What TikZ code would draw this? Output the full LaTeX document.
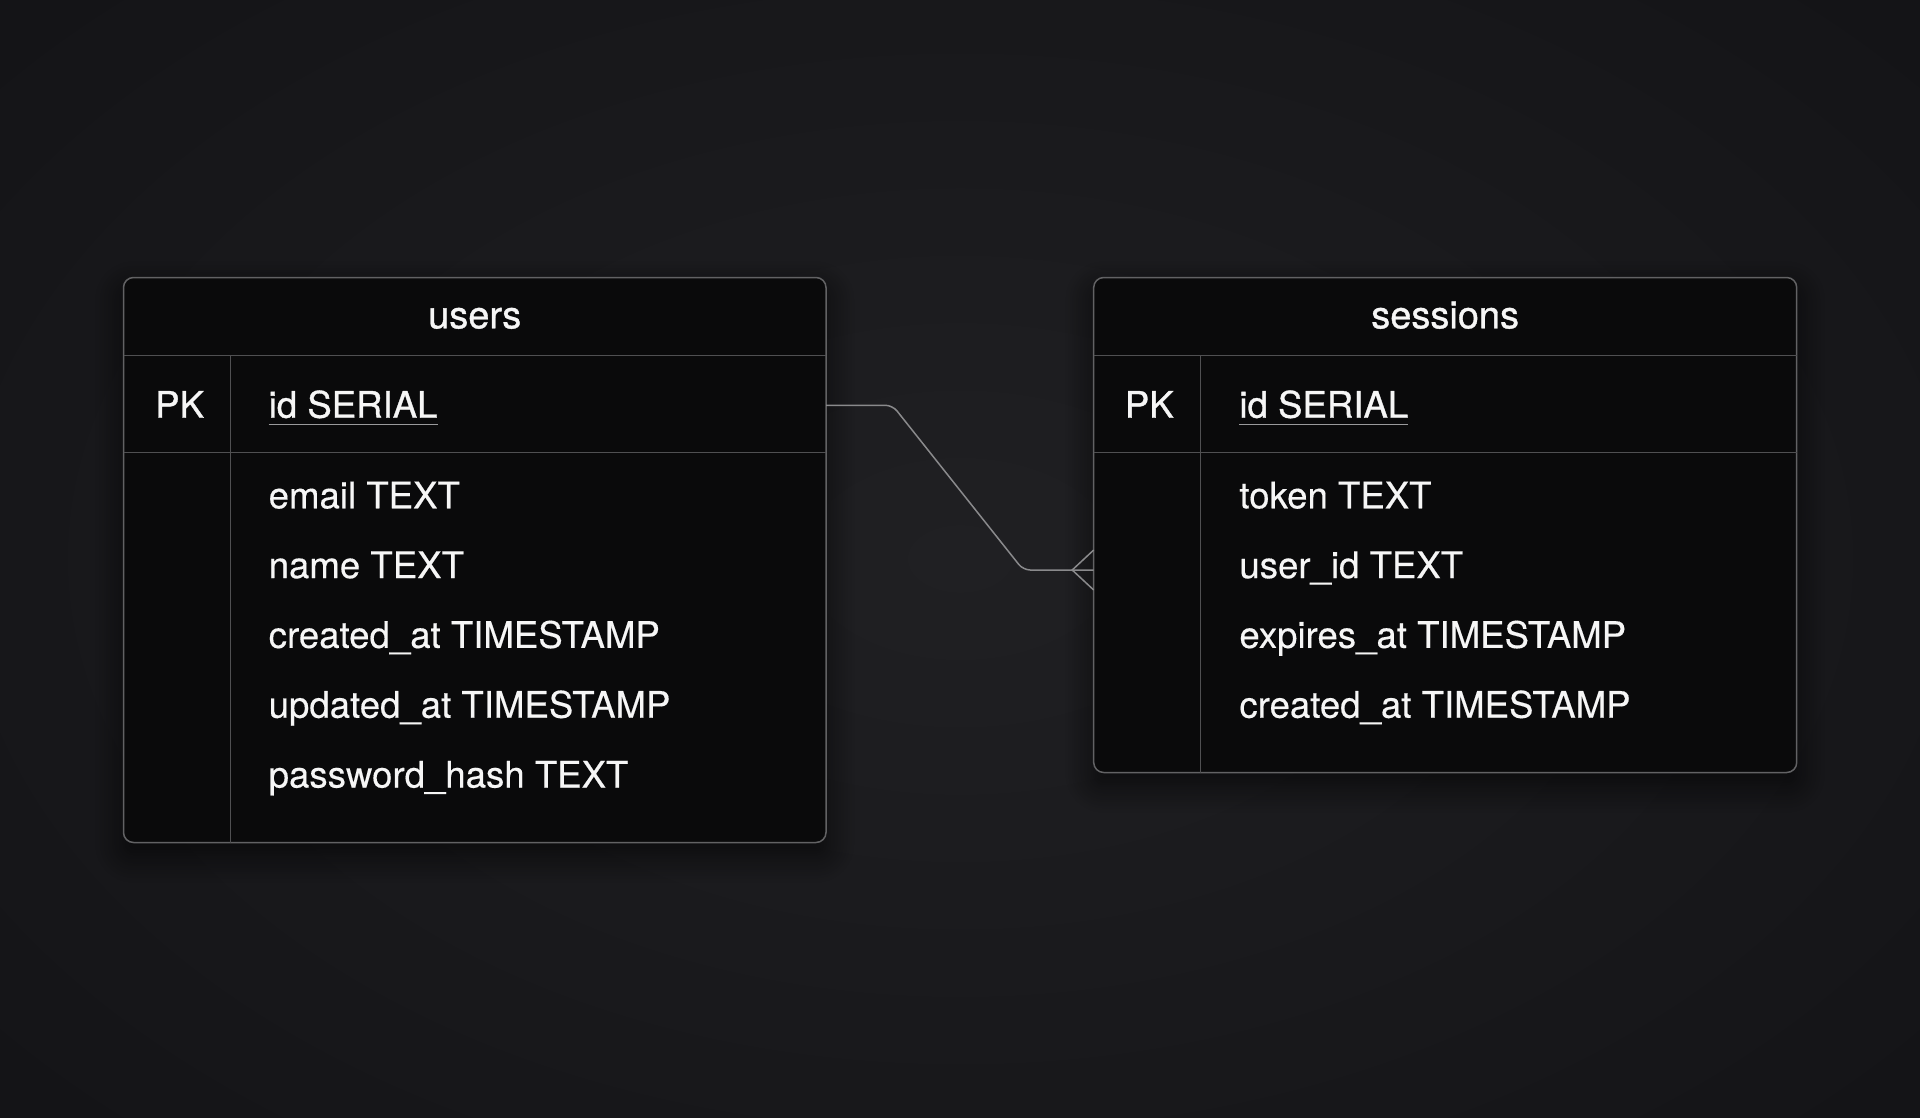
\documentclass[tikz,border=0pt]{standalone}
\usepackage{fontspec}
\setmainfont{TeX Gyre Heros}[FakeBold=0.35]
\newfontfamily\hdrfont{TeX Gyre Heros}[FakeBold=0.9]
\usetikzlibrary{calc,shadows.blur}
\definecolor{bgmid}{HTML}{202023}
\definecolor{bgedge}{HTML}{141417}
\definecolor{boxfill}{HTML}{0A0A0B}
\definecolor{boxline}{HTML}{626264}
\definecolor{rulecol}{HTML}{505052}
\definecolor{conncol}{HTML}{8A8A8C}
\definecolor{txtcol}{HTML}{F6F6F6}
\definecolor{ulcol}{HTML}{9A9A9C}
\tikzset{
  tablebox/.style={draw=boxline, line width=1.5pt, fill=boxfill, rounded corners=10pt,
    inner sep=0pt, outer sep=0pt, anchor=north west,
    blur shadow={shadow xshift=0pt, shadow yshift=-12pt, shadow blur radius=28pt,
      shadow blur steps=14, shadow opacity=65}},
  rowrule/.style={draw=rulecol, line width=1.3pt},
  hdrtext/.style={text=txtcol, inner sep=0pt, anchor=base, font=\hdrfont\fontsize{38}{44}\selectfont},
  celltext/.style={text=txtcol, inner sep=0pt, anchor=base west, font=\fontsize{36.6}{42}\selectfont},
  keytext/.style={celltext, font=\hdrfont\fontsize{36.6}{42}\selectfont},
  uline/.style={draw=ulcol, line width=1.8pt},
  connector/.style={draw=conncol, line width=1.5pt, rounded corners=7pt},
  crowfoot/.style={draw=conncol, line width=1.5pt},
}
\begin{document}
\begin{tikzpicture}[x=1pt,y=-1pt]
\useasboundingbox (0,0) rectangle (1920,1117);
\fill[inner color=bgmid, outer color=bgedge] (-300,-250) rectangle (2220,1367);

% ---------- users ----------
\node[tablebox, minimum width=702.5pt, minimum height=565pt] (users) at (123.5,277.5) {};
\draw[rowrule] ($(users.north west)+(0,78)$) -- ($(users.north east)+(0,78)$);
\draw[rowrule] ($(users.north west)+(0,175)$) -- ($(users.north east)+(0,175)$);
\draw[rowrule] ($(users.north west)+(107,78)$) -- ($(users.south west)+(107,0)$);
\node[hdrtext] (usersT) at ($(users.north)+(0,50.8)$) {users};
\node[keytext] (uPKl) at ($(users.north west)+(31.5,140.2)$) {PK};
\node[keytext] (uid) at ($(users.north west)+(145,140.2)$) {id SERIAL};
\draw[uline] ($(uid.base west)+(0,6.8)$) -- ($(uid.base east)+(0,6.8)$);
\node[celltext] (uemail) at ($(users.north west)+(145,230.8)$) {email TEXT};
\node[celltext] (uname) at ($(users.north west)+(145,300.6)$) {name TEXT};
\node[celltext] (ucreated) at ($(users.north west)+(145,370.4)$) {created\_at TIMESTAMP};
\node[celltext] (uupdated) at ($(users.north west)+(145,440.2)$) {updated\_at TIMESTAMP};
\node[celltext] (upass) at ($(users.north west)+(145,510)$) {password\_hash TEXT};

% ---------- sessions ----------
\node[tablebox, minimum width=703pt, minimum height=495pt] (sessions) at (1093.7,277.5) {};
\draw[rowrule] ($(sessions.north west)+(0,78)$) -- ($(sessions.north east)+(0,78)$);
\draw[rowrule] ($(sessions.north west)+(0,175)$) -- ($(sessions.north east)+(0,175)$);
\draw[rowrule] ($(sessions.north west)+(107,78)$) -- ($(sessions.south west)+(107,0)$);
\node[hdrtext] (sessionsT) at ($(sessions.north)+(0,50.8)$) {sessions};
\node[keytext] (sPKl) at ($(sessions.north west)+(31,140.2)$) {PK};
\node[keytext] (sid) at ($(sessions.north west)+(145.5,140.2)$) {id SERIAL};
\draw[uline] ($(sid.base west)+(0,6.8)$) -- ($(sid.base east)+(0,6.8)$);
\node[celltext] (stoken) at ($(sessions.north west)+(145.5,230.8)$) {token TEXT};
\node[celltext] (suser) at ($(sessions.north west)+(145.5,300.6)$) {user\_id TEXT};
\node[celltext] (sexpires) at ($(sessions.north west)+(145.5,370.4)$) {expires\_at TIMESTAMP};
\node[celltext] (screated) at ($(sessions.north west)+(145.5,440.2)$) {created\_at TIMESTAMP};

% ---------- relation ----------
\coordinate (uPK) at ($(users.north east)+(0,127.8)$);
\coordinate (sFK) at ($(sessions.north west)+(0,292.5)$);
\coordinate (b1) at ($(uPK)+(66.5,0)$);
\coordinate (b2) at ($(sFK)+(-70.5,0)$);
\coordinate (cfA) at ($(sFK)+(-21.5,0)$);
\draw[connector] (uPK) -- (b1) -- (b2) -- (sFK);
\draw[crowfoot] ($(sFK)+(0,-20)$) -- (cfA) -- ($(sFK)+(0,20)$);
\end{tikzpicture}
\end{document}
